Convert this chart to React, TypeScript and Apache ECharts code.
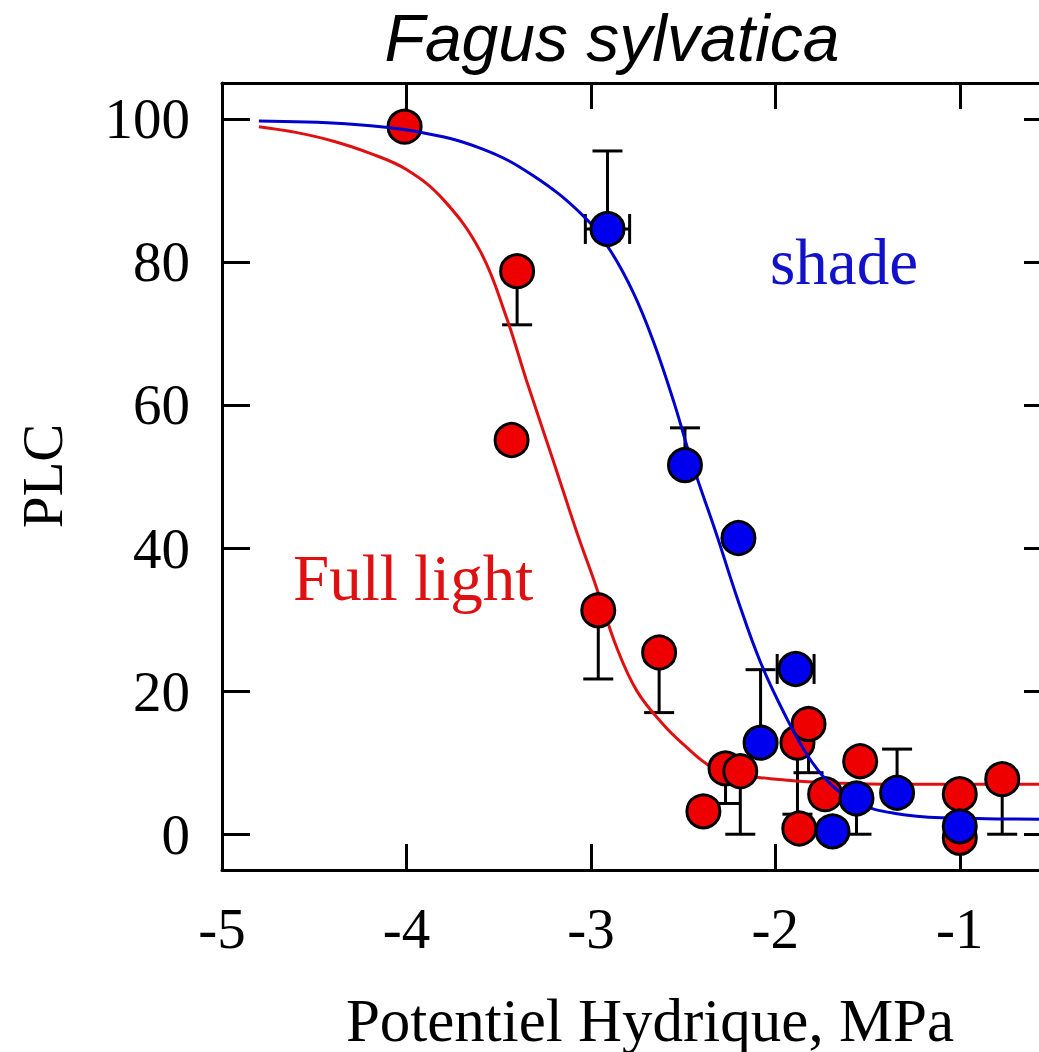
import React, { useEffect, useRef } from "react";
import * as echarts from "echarts";

// ---- Data ----
const xTickValues = [-5, -4, -3, -2, -1];
const xTopTickValues = [-4, -3, -2, -1];
const yTickValues = [0, 20, 40, 60, 80, 100];

// Full light (red) points
const fullLightX = [-4.01, -3.40, -3.43, -2.96, -2.63, -2.39, -2.27, -2.19, -1.88, -1.82, -1.87, -1.73, -1.54, -1.00, -1.00, -0.77];
const fullLightY = [98.9, 78.7, 55.1, 31.3, 25.4, 3.2, 9.2, 8.8, 12.8, 15.4, 0.8, 5.6, 10.2, 5.6, -0.5, 7.7];
// vertical error bars: x, y of point, y of bar end
const fullLightErrX = [-3.40, -2.96, -2.63, -2.27, -2.19, -1.88, -1.82, -0.77];
const fullLightErrFrom = [78.7, 31.3, 25.4, 9.2, 8.8, 12.8, 15.4, 7.7];
const fullLightErrTo = [71.2, 21.7, 17.0, 4.3, 0.0, 2.8, 8.6, 0.0];

// Shade (blue) points
const shadeX = [-2.91, -2.49, -2.20, -2.08, -1.89, -1.69, -1.56, -1.34, -1.00];
const shadeY = [84.6, 51.6, 41.4, 12.8, 23.1, 0.4, 5.0, 5.8, 1.1];
const shadeErrX = [-2.91, -2.49, -2.08, -1.56, -1.34];
const shadeErrFrom = [84.6, 51.6, 12.8, 5.0, 5.8];
const shadeErrTo = [95.5, 56.8, 23.0, 0.0, 11.9];
// horizontal error bars: y, x low, x high
const shadeHErrY = [84.6, 23.1];
const shadeHErrLow = [-3.03, -1.99];
const shadeHErrHigh = [-2.79, -1.79];

// fitted curves
const redCurveX = [-4.80, -4.60, -4.40, -4.20, -4.00, -3.80, -3.60, -3.46, -3.35, -3.20, -3.08, -2.97, -2.86, -2.75, -2.61, -2.50, -2.34, -2.20, -2.08, -1.80, -1.40, -0.50];
const redCurveY = [98.9, 98.1, 96.9, 95.2, 92.9, 88.7, 81.5, 72.4, 63.5, 51.9, 42.5, 34.5, 26.1, 20.0, 15.4, 12.6, 9.3, 8.3, 7.9, 7.3, 7.0, 7.0];
const blueCurveX = [-4.80, -4.33, -3.94, -3.59, -3.31, -3.04, -2.90, -2.77, -2.66, -2.55, -2.45, -2.32, -2.20, -2.08, -1.95, -1.82, -1.70, -1.55, -1.35, -1.10, -0.50];
const blueCurveY = [99.7, 99.3, 98.2, 95.8, 92.0, 86.4, 81.8, 75.7, 68.8, 60.4, 51.8, 42.0, 32.5, 24.0, 16.8, 10.8, 7.0, 4.3, 2.9, 2.3, 2.1];

const SERIF = "'Liberation Serif', 'Times New Roman', serif";
const TITLE_FONT = "'Liberation Sans', Arial, sans-serif";

function vErrRender(params: any, api: any) {
  const x = api.value(0);
  const p0 = api.coord([x, api.value(1)]);
  const p1 = api.coord([x, api.value(2)]);
  const hw = 15;
  const st = { stroke: "#000", lineWidth: 3 };
  return {
    type: "group",
    children: [
      { type: "line", shape: { x1: p0[0], y1: p0[1], x2: p1[0], y2: p1[1] }, style: st },
      { type: "line", shape: { x1: p1[0] - hw, y1: p1[1], x2: p1[0] + hw, y2: p1[1] }, style: st },
    ],
  };
}

function hErrRender(params: any, api: any) {
  const y = api.value(0);
  const p0 = api.coord([api.value(1), y]);
  const p1 = api.coord([api.value(2), y]);
  const hh = 15;
  const st = { stroke: "#000", lineWidth: 3 };
  return {
    type: "group",
    children: [
      { type: "line", shape: { x1: p0[0], y1: p0[1], x2: p1[0], y2: p1[1] }, style: st },
      { type: "line", shape: { x1: p0[0], y1: p0[1] - hh, x2: p0[0], y2: p0[1] + hh }, style: st },
      { type: "line", shape: { x1: p1[0], y1: p1[1] - hh, x2: p1[0], y2: p1[1] + hh }, style: st },
    ],
  };
}

export default function App() {
  const ref = useRef<HTMLDivElement>(null);
  useEffect(() => {
    if (!ref.current) return;
    const chart = echarts.init(ref.current, null, { renderer: "svg" });
    const axisLine = { show: true, onZero: false, lineStyle: { color: "#000", width: 3 } };
    const tickStyle = { color: "#000", width: 3 };
    const labelStyle = { fontFamily: SERIF, fontSize: 57, color: "#000" };
    const option: any = {
      animation: false,
      backgroundColor: "#fff",
      grid: { left: 222, top: 83, width: 830, height: 787, containLabel: false },
      xAxis: [
        {
          type: "value", min: -5, max: -0.5, position: "bottom",
          axisLine,
          axisTick: { show: true, inside: true, length: 26, lineStyle: tickStyle, customValues: xTopTickValues },
          axisLabel: { show: true, customValues: xTickValues, margin: 30, ...labelStyle },
          splitLine: { show: false },
        },
        {
          type: "value", min: -5, max: -0.5, position: "top",
          axisLine,
          axisTick: { show: true, inside: true, length: 26, lineStyle: tickStyle, customValues: xTopTickValues },
          axisLabel: { show: false },
          splitLine: { show: false },
        },
      ],
      yAxis: [
        {
          type: "value", min: -5, max: 105, position: "left",
          axisLine,
          axisTick: { show: true, inside: true, length: 28, lineStyle: tickStyle, customValues: yTickValues },
          axisLabel: { show: true, customValues: yTickValues, margin: 32, ...labelStyle },
          splitLine: { show: false },
        },
        {
          type: "value", min: -5, max: 105, position: "right",
          axisLine,
          axisTick: { show: true, inside: true, length: 28, lineStyle: tickStyle, customValues: yTickValues },
          axisLabel: { show: false },
          splitLine: { show: false },
        },
      ],
      graphic: [
        {
          type: "text", x: 612, y: 38,
          style: { text: "Fagus sylvatica", font: `italic 66px ${TITLE_FONT}`, fill: "#000", textAlign: "center", textVerticalAlign: "middle", align: "center", verticalAlign: "middle" },
        },
        {
          type: "text", x: 650, y: 1020,
          style: { text: "Potentiel Hydrique, MPa", font: `61px ${SERIF}`, fill: "#000", textAlign: "center", textVerticalAlign: "middle", align: "center", verticalAlign: "middle" },
        },
        {
          type: "text", x: 42, y: 476, rotation: Math.PI / 2,
          style: { text: "PLC", font: `57px ${SERIF}`, fill: "#000", textAlign: "center", textVerticalAlign: "middle", align: "center", verticalAlign: "middle" },
        },
        {
          type: "text", x: 770, y: 262,
          style: { text: "shade", font: `65px ${SERIF}`, fill: "#1111cc", textAlign: "left", textVerticalAlign: "middle", align: "left", verticalAlign: "middle" },
        },
        {
          type: "text", x: 293, y: 578,
          style: { text: "Full light", font: `65px ${SERIF}`, fill: "#dd1111", textAlign: "left", textVerticalAlign: "middle", align: "left", verticalAlign: "middle" },
        },
      ],
      series: [
        {
          type: "custom", z: 2, renderItem: vErrRender,
          encode: { x: 0, y: [1, 2] },
          data: fullLightErrX.map((x, i) => [x, fullLightErrFrom[i], fullLightErrTo[i]]),
        },
        {
          type: "line", z: 3, showSymbol: false, smooth: 0.4,
          lineStyle: { color: "#dd1111", width: 3 },
          data: redCurveX.map((x, i) => [x, redCurveY[i]]),
        },
        {
          type: "scatter", z: 4, symbol: "circle", symbolSize: 33,
          itemStyle: { color: "#ee0000", borderColor: "#000", borderWidth: 3, opacity: 1 },
          data: fullLightX.map((x, i) => [x, fullLightY[i]]),
        },
        {
          type: "custom", z: 5, renderItem: vErrRender,
          encode: { x: 0, y: [1, 2] },
          data: shadeErrX.map((x, i) => [x, shadeErrFrom[i], shadeErrTo[i]]),
        },
        {
          type: "custom", z: 5, renderItem: hErrRender,
          encode: { x: [1, 2], y: 0 },
          data: shadeHErrY.map((y, i) => [y, shadeHErrLow[i], shadeHErrHigh[i]]),
        },
        {
          type: "line", z: 6, showSymbol: false, smooth: 0.4,
          lineStyle: { color: "#0000cc", width: 3 },
          data: blueCurveX.map((x, i) => [x, blueCurveY[i]]),
        },
        {
          type: "scatter", z: 7, symbol: "circle", symbolSize: 33,
          itemStyle: { color: "#0000ee", borderColor: "#000", borderWidth: 3, opacity: 1 },
          data: shadeX.map((x, i) => [x, shadeY[i]]),
        },
      ],
    };
    chart.setOption(option);
    return () => chart.dispose();
  }, []);
  return (
    <div style={{ position: "absolute", left: 0, top: 0, width: 1039, height: 1052, overflow: "hidden", background: "#fff" }}>
      <div ref={ref} style={{ width: 1070, height: 1052 }} />
    </div>
  );
}
